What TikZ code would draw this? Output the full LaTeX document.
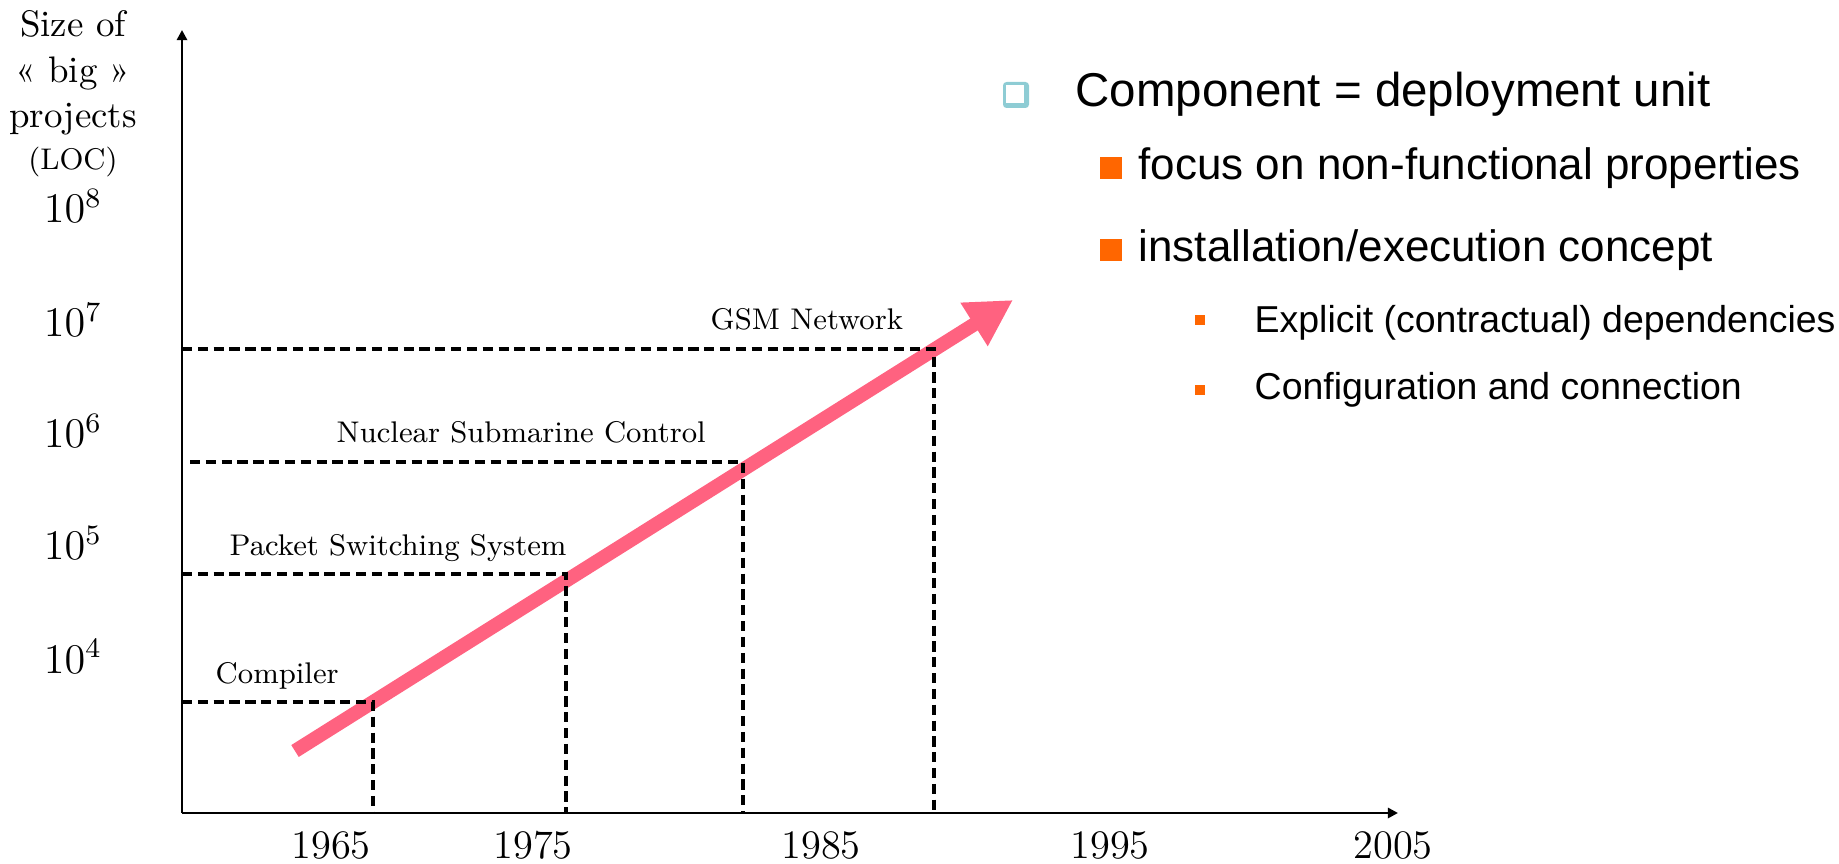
\documentclass[tikz,border=0pt]{standalone}
\usepackage{fontspec}
\newfontfamily\slidefont{Liberation Sans}
\usepackage{tikz}
\usetikzlibrary{arrows.meta}
\definecolor{trendpink}{RGB}{255,98,128}
\definecolor{bulletorange}{RGB}{255,102,0}
\definecolor{bulletblue}{RGB}{142,204,212}
\tikzstyle{axis} = [line width=0.85pt,-{Triangle[length=2.9pt,width=2.9pt]}]
\tikzstyle{guide} = [line width=0.9pt,dash pattern=on 2.9pt off 1.6pt]
\tikzstyle{trend} = [trendpink,line width=0.14cm,-{Triangle[length=0.46cm,width=0.48cm]}]
\tikzstyle{project} = [anchor=base west,inner sep=0pt,font=\fontsize{8.5}{10}\selectfont]
\tikzstyle{power} = [anchor=base,inner sep=0pt,font=\fontsize{11.5}{13}\selectfont]
\tikzstyle{year} = [anchor=base,inner sep=0pt,font=\fontsize{11.5}{13}\selectfont]
\tikzstyle{ytitle} = [anchor=base,inner sep=0pt,font=\fontsize{10.5}{12}\selectfont]
\tikzstyle{levelone} = [anchor=base west,inner sep=0pt,font=\slidefont\fontsize{13.5}{16}\selectfont]
\tikzstyle{leveltwo} = [anchor=base west,inner sep=0pt,font=\slidefont\fontsize{12.5}{15}\selectfont]
\tikzstyle{levelthree} = [anchor=base west,inner sep=0pt,font=\slidefont\fontsize{10.65}{13}\selectfont]
\tikzstyle{bigsquare} = [fill=bulletorange,inner sep=0pt,minimum size=0.22cm]
\tikzstyle{smallsquare} = [fill=bulletorange,inner sep=0pt,minimum size=0.10cm]

\begin{document}
\begin{tikzpicture}[x=0.01cm,y=-0.01cm]
	\useasboundingbox (0,0) rectangle (1839,864);
	\coordinate (origin) at (182,813);
	\coordinate (ytop) at (182,30);
	\coordinate (xend) at (1398,813);

	% trend arrow (below the guides)
	\coordinate (trendstart) at (295,751);
	\coordinate (trendtip) at (1013,300);
	\draw[trend] (trendstart) -- (trendtip);

	% axes
	\draw[axis] (origin) -- (ytop);
	\draw[axis] (origin) -- (xend);

	% title of the y axis
	\node[ytitle] (title1) at (73,37) {Size of};
	\node[ytitle] (title2) at (73,83) {« big »};
	\node[ytitle] (title3) at (73,128) {projects};
	\node[ytitle,font=\fontsize{8.5}{10}\selectfont] (title4) at (73,170) {(LOC)};

	% powers of ten
	\node[power] (pow8) at (73,223) {$10^8$};
	\node[power] (pow7) at (73,337) {$10^7$};
	\node[power] (pow6) at (73,448) {$10^6$};
	\node[power] (pow5) at (73,560) {$10^5$};
	\node[power] (pow4) at (73,673) {$10^4$};

	% years
	\node[year] (y1965) at (331,858) {1965};
	\node[year] (y1975) at (533,858) {1975};
	\node[year] (y1985) at (821,858) {1985};
	\node[year] (y1995) at (1110,858) {1995};
	\node[year] (y2005) at (1393,858) {2005};

	% projects
	\coordinate (Compiler) at (373,702);
	\coordinate (Packet) at (566,574);
	\coordinate (Nuclear) at (743,462);
	\coordinate (GSM) at (934,349);
	\draw[guide] (182,702) -- (Compiler) -- (373,813);
	\draw[guide] (182,574) -- (Packet) -- (566,813);
	\draw[guide] (190,462) -- (Nuclear) -- (743,813);
	\draw[guide] (182,349) -- (GSM) -- (934,813);
	\node[project] (textCompiler) at (215,683) {Compiler};
	\node[project] (textPacket) at (229,555) {Packet Switching System};
	\node[project] (textNuclear) at (336,443) {Nuclear Submarine Control};
	\node[project] (textGSM) at (710,330) {GSM Network};

	% bullet list
	\fill[bulletblue,rounded corners=1pt] (1003,82) rectangle (1029,108);
	\fill[white] (1006,85) rectangle (1024,103);
	\node[levelone] (component) at (1075,107) {Component = deployment unit};
	\node[bigsquare] (sq1) at (1111,168) {};
	\node[leveltwo] (focus) at (1138,180) {focus on non-functional properties};
	\node[bigsquare] (sq2) at (1111,250) {};
	\node[leveltwo] (install) at (1138,262) {installation/execution concept};
	\node[smallsquare] (sq3) at (1200,320) {};
	\node[levelthree] (explicit) at (1254,333) {Explicit (contractual) dependencies};
	\node[smallsquare] (sq4) at (1200,390) {};
	\node[levelthree] (config) at (1254,400) {Configuration and connection};
\end{tikzpicture}
\end{document}
